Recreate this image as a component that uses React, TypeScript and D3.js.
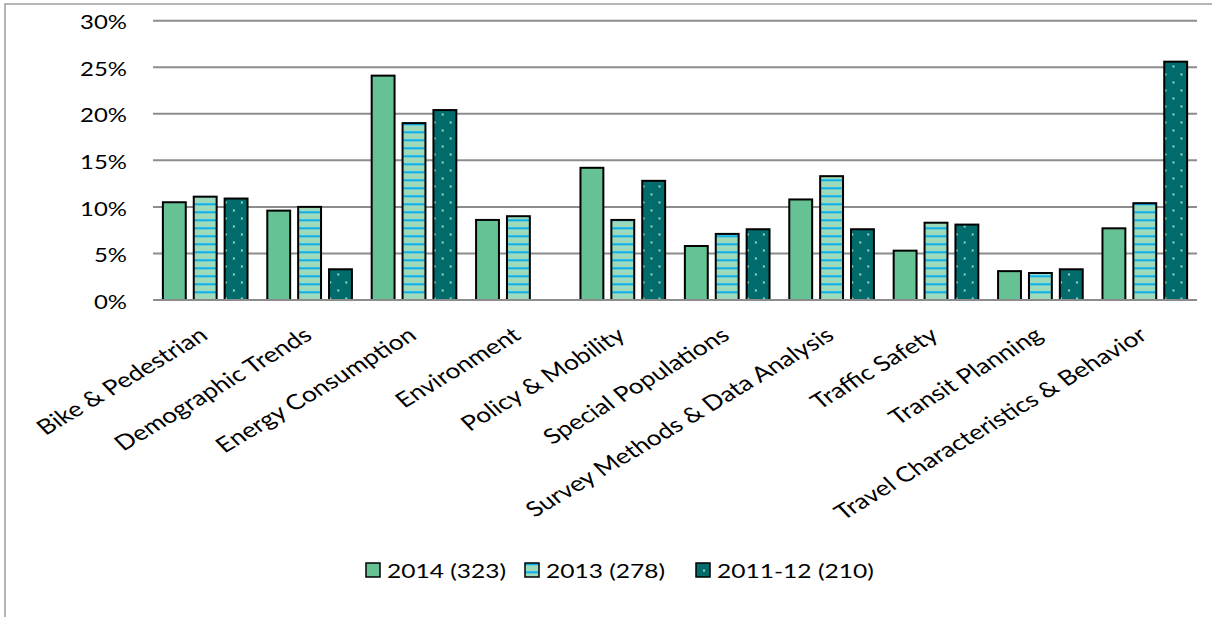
import React from "react";
import * as d3 from "d3";

// Share of papers by topic area, per conference period
const categories = [
  "Bike & Pedestrian",
  "Demographic Trends",
  "Energy Consumption",
  "Environment",
  "Policy & Mobility",
  "Special Populations",
  "Survey Methods & Data Analysis",
  "Traffic Safety",
  "Transit Planning",
  "Travel Characteristics & Behavior",
];

const seriesNames = ["2014 (323)", "2013 (278)", "2011-12 (210)"];

const values2014 = [10.5, 9.6, 24.1, 8.6, 14.2, 5.8, 10.8, 5.3, 3.1, 7.7];
const values2013 = [11.1, 10.0, 19.0, 9.0, 8.6, 7.1, 13.3, 8.3, 2.9, 10.4];
const values2011 = [10.9, 3.3, 20.4, 0, 12.8, 7.6, 7.6, 8.1, 3.3, 25.6];

const yTicks = [0, 5, 10, 15, 20, 25, 30];

const W = 1212;
const H = 617;
const FONT = "Lato, 'Open Sans', sans-serif";
const SX = 1.26; // horizontal text stretch
const LABEL_ANGLE = 37;

const fills = ["#66c194", "url(#stripes)", "url(#dots)"];

export default function App() {
  const seriesValues = [values2014, values2013, values2011];

  const x = d3
    .scaleBand<string>()
    .domain(categories)
    .range([153, 1197])
    .paddingInner(0.17)
    .paddingOuter(0.085);

  const xs = d3
    .scaleBand<string>()
    .domain(seriesNames)
    .range([0, x.bandwidth()])
    .paddingInner(0.194);

  const y = d3.scaleLinear().domain([0, 30]).range([300, 20.7]);

  const legendX = [366, 525, 696];

  return (
    <svg
      width={W}
      height={H}
      style={{ position: "absolute", left: 0, top: 0, background: "#fff" }}
      fontFamily={FONT}
    >
      <defs>
        <pattern id="stripes" patternUnits="userSpaceOnUse" width={8} height={8}>
          <rect width={8} height={8} fill="#9dd9bb" />
          <rect y={3.3} width={8} height={2} fill="#0bb0ee" />
        </pattern>
        <pattern id="dots" patternUnits="userSpaceOnUse" width={16} height={16}>
          <rect width={16} height={16} fill="#026b6b" />
          <rect x={7} y={1.5} width={2} height={2} fill="#9fd8bb" />
          <rect x={-1} y={9.5} width={2} height={2} fill="#9fd8bb" />
          <rect x={15} y={9.5} width={2} height={2} fill="#9fd8bb" />
        </pattern>
      </defs>

      {/* outer frame */}
      <rect x={5} y={4} width={W + 20} height={H + 20} fill="#fff" stroke="#a3a3a3" strokeWidth={1.6} />

      {/* gridlines */}
      {yTicks.map((t) => (
        <line
          key={"g" + t}
          x1={153}
          x2={1197}
          y1={y(t)}
          y2={y(t)}
          stroke="#8c8c8c"
          strokeWidth={2}
        />
      ))}

      {/* y tick labels */}
      {yTicks.map((t) => (
        <text
          key={"t" + t}
          transform={`translate(127,${y(t) + 8.6}) scale(${SX},1)`}
          textAnchor="end"
          fontSize={19}
          fill="#000"
        >
          {t + "%"}
        </text>
      ))}

      {/* bars */}
      {categories.map((c, i) => (
        <g key={c} transform={`translate(${x(c)},0)`}>
          {seriesNames.map((s, j) => {
            const v = seriesValues[j][i];
            if (!v) return null;
            return (
              <rect
                key={s}
                x={(xs(s) as number) + 1}
                y={y(v)}
                width={xs.bandwidth() - 2}
                height={y(0) - y(v)}
                fill={fills[j]}
                stroke="#000"
                strokeWidth={2}
              />
            );
          })}
        </g>
      ))}

      {/* category axis line */}
      <line x1={153} x2={1197} y1={y(0)} y2={y(0)} stroke="#8c8c8c" strokeWidth={2} />

      {/* category labels */}
      {categories.map((c) => (
        <text
          key={"l" + c}
          transform={`translate(${(x(c) as number) + x.bandwidth() / 2 + 4},338) scale(${SX},1) rotate(-${LABEL_ANGLE})`}
          textAnchor="end"
          fontSize={21}
          fill="#000"
        >
          {c}
        </text>
      ))}

      {/* legend */}
      {seriesNames.map((s, j) => (
        <g key={"lg" + s}>
          <rect x={legendX[j]} y={563} width={14} height={14} fill={fills[j]} stroke="#000" strokeWidth={1.5} />
          <text
            transform={`translate(${legendX[j] + 21},577.7) scale(${SX},1)`}
            fontSize={19.5}
            fill="#000"
          >
            {s}
          </text>
        </g>
      ))}
    </svg>
  );
}
